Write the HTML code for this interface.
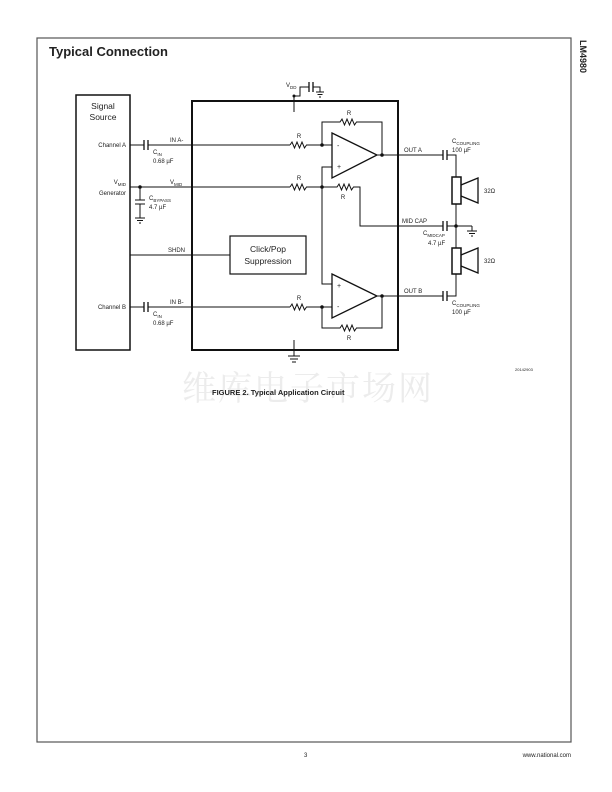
<!DOCTYPE html>
<html><head><meta charset="utf-8"><style>
html,body{margin:0;padding:0;background:#fff}
svg{display:block}
text{font-family:"Liberation Sans",Arial,sans-serif;fill:#222}
</style></head><body>
<svg width="612" height="792" viewBox="0 0 612 792" xmlns="http://www.w3.org/2000/svg">
<!-- frame -->
<rect x="37" y="38" width="534" height="704" fill="none" stroke="#555" stroke-width="1.2"/>
<text x="49" y="56" font-size="13" font-weight="bold">Typical Connection</text>
<text x="580" y="40" font-size="9" font-weight="bold" transform="rotate(90 580 40)">LM4980</text>
<text x="304" y="757" font-size="6">3</text>
<text x="571" y="757" font-size="6" text-anchor="end">www.national.com</text>
<!-- watermark -->
<text x="182" y="400" font-size="34" style="fill:#ececec;font-family:'Noto Serif CJK SC','Noto Sans CJK SC',serif" letter-spacing="2">维库电子市场网</text>
<text x="212" y="395" font-size="7.5" font-weight="bold">FIGURE 2. Typical Application Circuit</text>
<text x="515" y="371" font-size="4">20142903</text>

<g stroke="#111" fill="none" stroke-width="1">
<rect x="76" y="95" width="54" height="255" stroke-width="1.5"/>
<rect x="192" y="101" width="206" height="249" stroke-width="2"/>
<rect x="230" y="236" width="76" height="38" stroke-width="1.2"/>
<path d="M130 145H144M148 145H290"/>
<path d="M144 140V150M148 140V150" stroke-width="1.3"/>
<path d="M290 145l2 -3 2.5 6 2.5 -6 2.5 6 2.5 -6 2.5 6 2 -3H332"/>
<path d="M130 187H290"/>
<path d="M290 187l2 -3 2.5 6 2.5 -6 2.5 6 2.5 -6 2.5 6 2 -3H337l2 -3 2.5 6 2.5 -6 2.5 6 2.5 -6 2.5 6 2 -3H360V226H443M447 226H472"/>
<path d="M443 221V231M447 221V231" stroke-width="1.3"/>
<path d="M140 187V200M135 200H145M135 204H145M140 204V218M135 218H145M137 220.5H143M139 223H141"/>
<path d="M130 255H230"/>
<path d="M130 307H144M148 307H290"/>
<path d="M144 302V312M148 302V312" stroke-width="1.3"/>
<path d="M290 307l2 -3 2.5 6 2.5 -6 2.5 6 2.5 -6 2.5 6 2 -3H332"/>
<path d="M332 133L377 155L332 178Z" stroke-width="1.3"/>
<path d="M322 145V122H340l2 -3 2.5 6 2.5 -6 2.5 6 2.5 -6 2.5 6 2 -3H382V155M377 155H443M447 155H456V177"/>
<path d="M443 150V160M447 150V160" stroke-width="1.3"/>
<path d="M332 167H322V284H332"/>
<path d="M332 274L377 296L332 318Z" stroke-width="1.3"/>
<path d="M322 307V328H340l2 -3 2.5 6 2.5 -6 2.5 6 2.5 -6 2.5 6 2 -3H382V296M377 296H443M447 296H456V274"/>
<path d="M443 291V301M447 291V301" stroke-width="1.3"/>
<rect x="452" y="177" width="9" height="27" stroke-width="1.5"/>
<path d="M461 185L478 178V203L461 196" stroke-width="1.3"/>
<path d="M456 204V248"/>
<rect x="452" y="248" width="9" height="26" stroke-width="1.5"/>
<path d="M461 255L478 248V273L461 266" stroke-width="1.3"/>
<path d="M472 226V231M467 231H477M469 233.5H475M471 236H473"/>
<path d="M294 96V112M294 96H300V87H309M313 87H320V92M316 92H324M317.5 94.5H322.5M319 97H321"/>
<path d="M309 82V92M313 82V92" stroke-width="1.3"/>
<path d="M294 340V356M288 356H300M290 359H298M292 362H296"/>
</g>
<g fill="#111">
<circle cx="140" cy="187" r="1.8"/>
<circle cx="322" cy="145" r="1.8"/><circle cx="322" cy="187" r="1.8"/>
<circle cx="322" cy="307" r="1.8"/>
<circle cx="382" cy="155" r="1.8"/><circle cx="382" cy="296" r="1.8"/>
<circle cx="456" cy="226" r="1.8"/><circle cx="294" cy="96" r="1.5"/>
</g>
<g font-size="6">
<text x="103" y="109" font-size="8.5" text-anchor="middle">Signal</text>
<text x="103" y="120" font-size="8.5" text-anchor="middle">Source</text>
<text x="126" y="147" text-anchor="end">Channel A</text>
<text x="126" y="184" text-anchor="end">V<tspan font-size="4.5" dy="2">MID</tspan></text>
<text x="126" y="195" text-anchor="end">Generator</text>
<text x="126" y="309" text-anchor="end">Channel B</text>
<text x="170" y="142">IN A-</text>
<text x="153" y="154">C<tspan font-size="4.5" dy="2">IN</tspan></text>
<text x="153" y="163">0.68 µF</text>
<text x="170" y="184">V<tspan font-size="4.5" dy="2">MID</tspan></text>
<text x="149" y="200">C<tspan font-size="4.5" dy="2">BYPASS</tspan></text>
<text x="149" y="209">4.7 µF</text>
<text x="168" y="252" style="text-decoration:overline">SHDN</text>
<text x="170" y="304">IN B-</text>
<text x="153" y="316">C<tspan font-size="4.5" dy="2">IN</tspan></text>
<text x="153" y="325">0.68 µF</text>
<text x="268" y="252" font-size="8.5" text-anchor="middle">Click/Pop</text>
<text x="268" y="264" font-size="8.5" text-anchor="middle">Suppression</text>
<text x="299" y="138" text-anchor="middle">R</text>
<text x="299" y="180" text-anchor="middle">R</text>
<text x="299" y="300" text-anchor="middle">R</text>
<text x="349" y="115" text-anchor="middle">R</text>
<text x="343" y="199" text-anchor="middle">R</text>
<text x="349" y="340" text-anchor="middle">R</text>
<text x="337" y="148" font-size="7">-</text>
<text x="337" y="169" font-size="7">+</text>
<text x="337" y="288" font-size="7">+</text>
<text x="337" y="309" font-size="7">-</text>
<text x="286" y="87">V<tspan font-size="4.5" dy="2">DD</tspan></text>
<text x="404" y="152">OUT A</text>
<text x="404" y="293">OUT B</text>
<text x="402" y="223">MID CAP</text>
<text x="452" y="143">C<tspan font-size="4.5" dy="2">COUPLING</tspan></text>
<text x="452" y="152">100 µF</text>
<text x="452" y="305">C<tspan font-size="4.5" dy="2">COUPLING</tspan></text>
<text x="452" y="314">100 µF</text>
<text x="423" y="235">C<tspan font-size="4.5" dy="2">MIDCAP</tspan></text>
<text x="428" y="245">4.7 µF</text>
<text x="484" y="193">32Ω</text>
<text x="484" y="263">32Ω</text>
</g>
</svg>
</body></html>
